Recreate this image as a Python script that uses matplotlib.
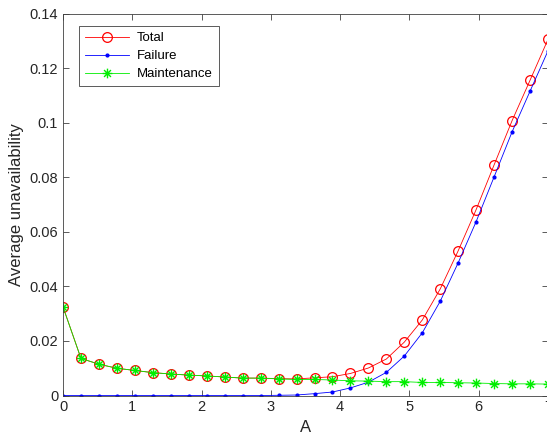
import matplotlib.pyplot as plt
import numpy as np
from matplotlib.path import Path

plt.rcParams['font.family'] = ['Liberation Sans', 'DejaVu Sans']

# 28 evaluation points between 0 and 7
A = np.linspace(0, 7, 28)

total = [0.0325, 0.0136, 0.0115, 0.0100, 0.0092, 0.0084, 0.0079, 0.0075, 0.0072, 0.0068,
         0.0064, 0.0064, 0.0062, 0.0061, 0.0065, 0.0069, 0.0081, 0.0101, 0.0134, 0.0196,
         0.0277, 0.0391, 0.0531, 0.0682, 0.0846, 0.1008, 0.1156, 0.1306]
failure = [0, 0, 0, 0, 0, 0, 0, 0, 0, 0, 0, 0, 0.0001, 0.0002, 0.0007, 0.0013,
           0.0028, 0.0049, 0.0085, 0.0145, 0.0230, 0.0346, 0.0487, 0.0638, 0.0802,
           0.0967, 0.1116, 0.1264]
maintenance = [0.0325, 0.0136, 0.0115, 0.0100, 0.0092, 0.0084, 0.0079, 0.0075, 0.0072, 0.0068,
               0.0064, 0.0064, 0.0061, 0.0059, 0.0059, 0.0057, 0.0054, 0.0053, 0.0051, 0.0051,
               0.0048, 0.0048, 0.0047, 0.0046, 0.0044, 0.0043, 0.0043, 0.0042]

# matlab style asterisk: plus and cross together
d = 0.7071
asterisk = Path([(-1, 0), (1, 0), (0, -1), (0, 1), (-d, -d), (d, d), (-d, d), (d, -d)],
                [Path.MOVETO, Path.LINETO] * 4)

fig = plt.figure(figsize=(5.47, 4.40), dpi=100)
ax = fig.add_axes([0.1152, 0.101, 0.8867, 0.868])

ax.plot(A, total, color='red', lw=0.6, marker='o', ms=7, mfc='none', mew=0.9, label='Total')
ax.plot(A, failure, color='blue', lw=0.6, marker='.', ms=4, label='Failure')
ax.plot(A, maintenance, color='#00ee00', lw=0.6, marker=asterisk, ms=7, mew=1.0,
        label='Maintenance')

ax.set_xlim(0, 7)
ax.set_ylim(0, 0.14)
ax.set_xticks(range(8))
ax.set_yticks([0, 0.02, 0.04, 0.06, 0.08, 0.1, 0.12, 0.14])
ax.set_yticklabels(['0', '0.02', '0.04', '0.06', '0.08', '0.1', '0.12', '0.14'])

for s in ax.spines.values():
    s.set_color('#404040')
    s.set_linewidth(0.6)
ax.tick_params(direction='in', top=True, right=True, length=4, width=0.6,
               colors='#404040', labelsize=10.5, labelcolor='#262626')

ax.set_xlabel('A', fontsize=12, color='#262626')
ax.set_ylabel('Average unavailability', fontsize=12, color='#262626')

leg = ax.legend(loc='upper left', bbox_to_anchor=(0.02, 0.985), fontsize=9.5,
                fancybox=False, framealpha=1, edgecolor='#404040',
                handlelength=3.3, handletextpad=0.6, borderpad=0.45, labelspacing=0.45)
leg.get_frame().set_linewidth(0.6)

fig.savefig('out.png')
